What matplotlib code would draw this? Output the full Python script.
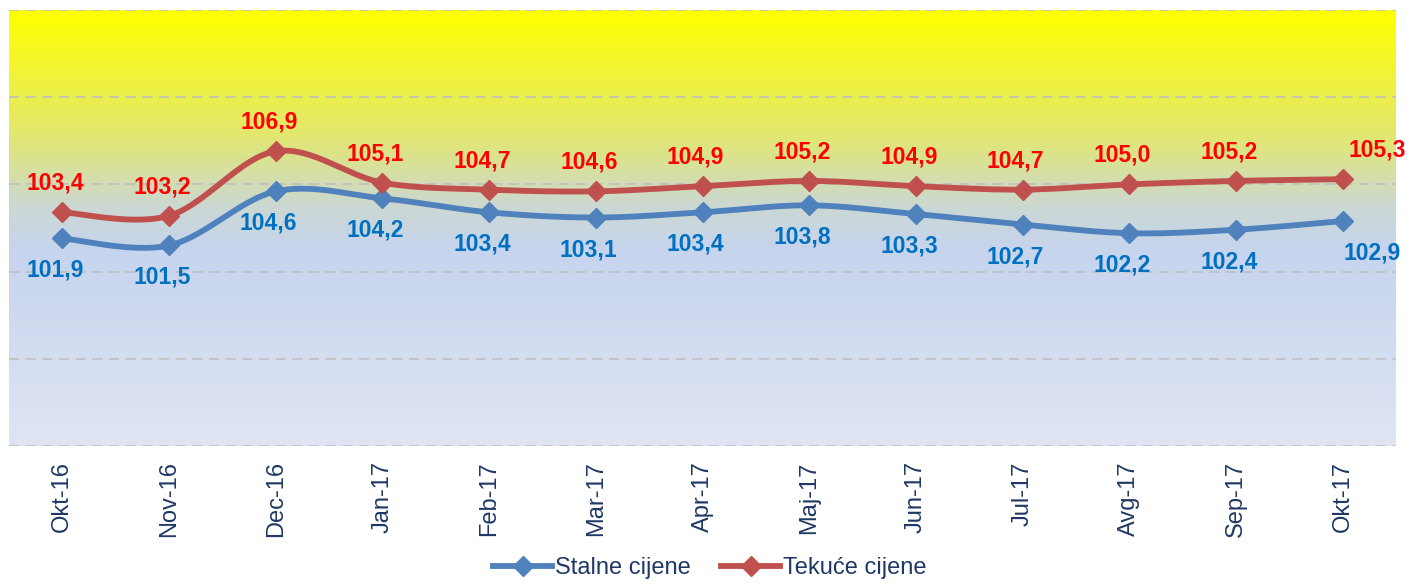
import numpy as np
import matplotlib
matplotlib.use("Agg")
import matplotlib.pyplot as plt
from matplotlib.colors import LinearSegmentedColormap
from matplotlib.lines import Line2D

plt.rcParams['font.family'] = ['Liberation Sans', 'DejaVu Sans']

months = ['Okt-16', 'Nov-16', 'Dec-16', 'Jan-17', 'Feb-17', 'Mar-17', 'Apr-17',
          'Maj-17', 'Jun-17', 'Jul-17', 'Avg-17', 'Sep-17', 'Okt-17']
stalne = [101.9, 101.5, 104.6, 104.2, 103.4, 103.1, 103.4, 103.8, 103.3, 102.7, 102.2, 102.4, 102.9]
tekuce = [103.4, 103.2, 106.9, 105.1, 104.7, 104.6, 104.9, 105.2, 104.9, 104.7, 105.0, 105.2, 105.3]

blue = '#4F81BD'
red = '#C0504D'


def smooth(xs, ys, n=30):
    # Bezier smoothing in the Excel way (control points at 1/6 of neighbour span)
    xs = np.asarray(xs, float)
    ys = np.asarray(ys, float)
    px = np.concatenate([[xs[0]], xs, [xs[-1]]])
    py = np.concatenate([[ys[0]], ys, [ys[-1]]])
    outx, outy = [], []
    t = np.linspace(0, 1, n)
    for i in range(1, len(px) - 2):
        p0 = np.array([px[i], py[i]])
        p3 = np.array([px[i + 1], py[i + 1]])
        c1 = p0 + (np.array([px[i + 1], py[i + 1]]) - np.array([px[i - 1], py[i - 1]])) / 6
        c2 = p3 - (np.array([px[i + 2], py[i + 2]]) - np.array([px[i], py[i]])) / 6
        b = ((1 - t) ** 3)[:, None] * p0 + (3 * (1 - t) ** 2 * t)[:, None] * c1 \
            + (3 * (1 - t) * t ** 2)[:, None] * c2 + (t ** 3)[:, None] * p3
        outx.extend(b[:, 0])
        outy.extend(b[:, 1])
    return outx, outy


fig = plt.figure(figsize=(14.28, 5.84), dpi=100)
ax = fig.add_axes([9 / 1428, 1 - 446 / 584, 1387 / 1428, 436 / 584])

x = np.arange(len(months)) + 0.5
ax.set_xlim(0, len(months))
ax.set_ylim(90, 115)

# gradient background
cmap = LinearSegmentedColormap.from_list('bg', [
    (0.0, '#DFE5F3'),
    (0.45, '#C6D4EE'),
    (0.55, '#CBD8D2'),
    (0.72, '#E3E86C'),
    (1.0, '#FFFF00'),
])
grad = np.linspace(0, 1, 256).reshape(-1, 1)
ax.imshow(grad, cmap=cmap, aspect='auto', origin='lower',
          extent=[0, len(months), 90, 115], zorder=0)

for gy in [90, 95, 100, 105, 110, 115]:
    ax.axhline(gy, color='#BFBFBF', lw=1.2, ls=(0, (6, 4)), zorder=1)

sx, sy = smooth(x, stalne)
tx, ty = smooth(x, tekuce)
ax.plot(sx, sy, color=blue, lw=4.2, zorder=3, solid_capstyle='round')
ax.plot(tx, ty, color=red, lw=4.2, zorder=3, solid_capstyle='round')
ax.plot(x, stalne, ls='none', marker='D', ms=10.5, color=blue, zorder=4)
ax.plot(x, tekuce, ls='none', marker='D', ms=10.5, color=red, zorder=4)

last = len(months) - 1
for i, (xi, v) in enumerate(zip(x, stalne)):
    dx = 29 if i == last else -7
    ax.annotate(f'{v:.1f}'.replace('.', ','), (xi, v), xytext=(dx, -32),
                textcoords='offset pixels', ha='center', va='center',
                color='#0070C0', fontsize=16.5, fontweight='bold', zorder=5)
for i, (xi, v) in enumerate(zip(x, tekuce)):
    dx = 35 if i == last else -7
    ax.annotate(f'{v:.1f}'.replace('.', ','), (xi, v), xytext=(dx, 29),
                textcoords='offset pixels', ha='center', va='center',
                color='#FF0000', fontsize=16.5, fontweight='bold', zorder=5)

ax.set_xticks(x)
ax.set_xticklabels(months, rotation=90, fontsize=17, color='#1F3864')
ax.tick_params(axis='x', length=0, pad=11)
ax.set_yticks([])
for s in ax.spines.values():
    s.set_visible(False)

handles = [Line2D([], [], color=blue, lw=4.2, marker='D', ms=10),
           Line2D([], [], color=red, lw=4.2, marker='D', ms=10)]
leg = fig.legend(handles, ['Stalne cijene', 'Tekuće cijene'], loc='center',
                 bbox_to_anchor=(0.497, 0.027), ncol=2, frameon=False,
                 fontsize=17, handlelength=2.5, columnspacing=1.3, handletextpad=0.1)
for t in leg.get_texts():
    t.set_color('#1F3864')

fig.savefig('out.png', dpi=100)
